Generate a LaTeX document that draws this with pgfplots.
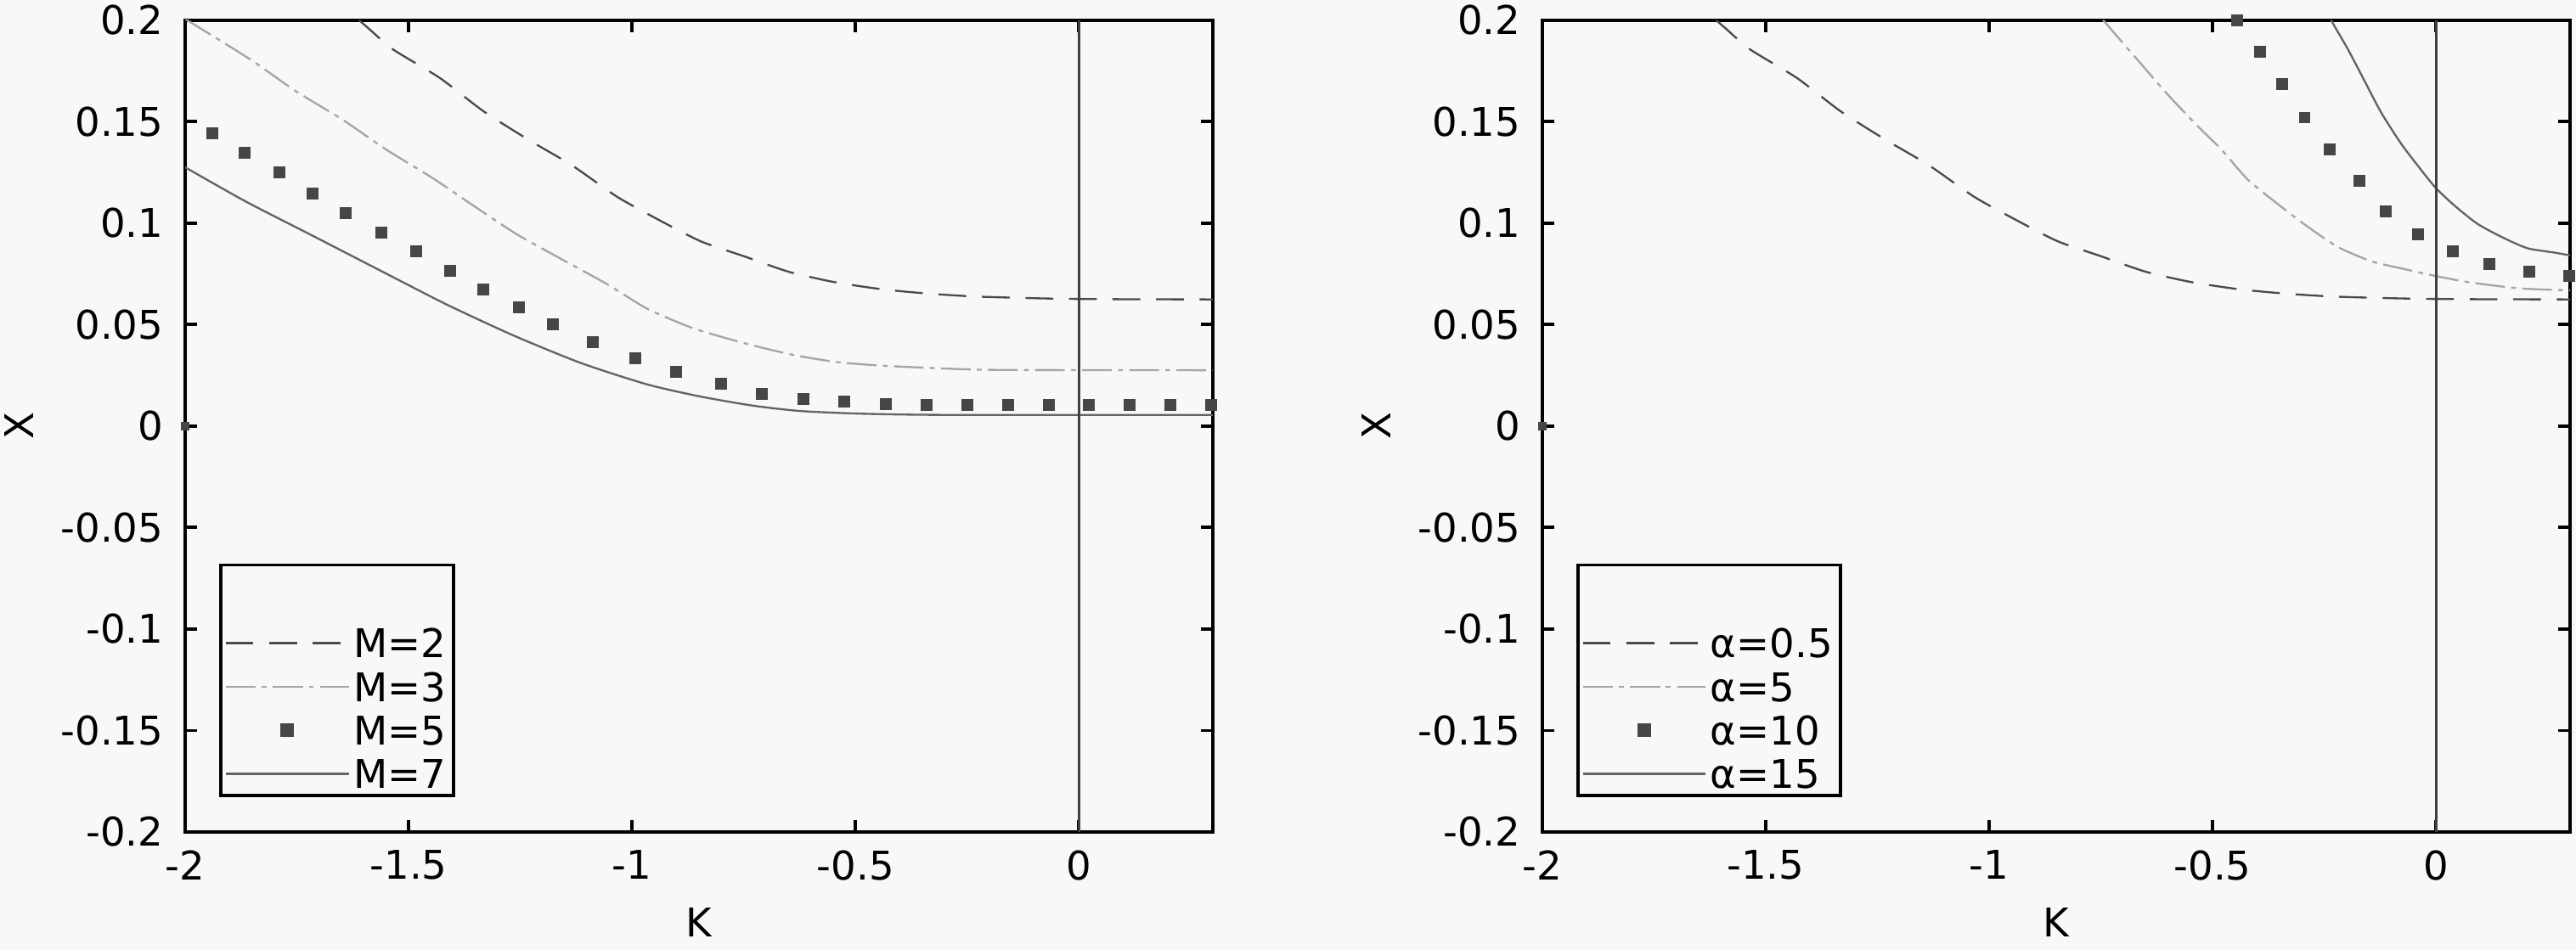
\documentclass[border=0pt]{standalone}
\usepackage{fontspec}
\setmainfont{DejaVu Sans}
\usepackage{pgfplots}
\pgfplotsset{compat=1.18}
\definecolor{bg}{RGB}{248,248,248}
\definecolor{cdash}{RGB}{75,75,75}
\definecolor{cdd}{RGB}{165,165,165}
\definecolor{csq}{RGB}{70,70,70}
\definecolor{csol}{RGB}{100,100,100}

\pgfplotsset{
 myaxis/.style={
  scale only axis, width=259.7pt, height=205.2pt,
  xmin=-2, xmax=0.3, ymin=-0.2, ymax=0.2,
  xtick={-2,-1.5,-1,-0.5,0}, xticklabels={-2,-1.5,-1,-0.5,0},
  ytick={-0.2,-0.15,-0.1,-0.05,0,0.05,0.1,0.15,0.2},
  yticklabels={-0.2,-0.15,-0.1,-0.05,0,0.05,0.1,0.15,0.2},
  tick align=inside, major tick length=3pt,
  xtick pos=both, ytick pos=both,
  xticklabel pos=lower, yticklabel pos=left,
  axis line style={line width=0.8pt, black},
  every tick/.style={line width=0.8pt, black},
  xticklabel style={yshift=-1.2pt},
  yticklabel style={xshift=-2pt},
  xlabel={K}, ylabel={X},
  legend style={at={(0.0331,0.0429)}, anchor=south west, draw=black, line width=0.8pt,
    fill=bg, inner ysep=0pt, inner xsep=1pt, row sep=0pt,
    nodes={text height=8.7pt, text depth=1.3pt, inner ysep=0.5pt, inner xsep=1pt}},
  legend cell align=left,
  legend image code/.code={\draw[mark repeat=2,mark phase=2,##1] plot coordinates {(0pt,0pt) (15.5pt,0pt) (31pt,0pt)};},
  clip=true,
 },
 sdash/.style={cdash, line width=0.5pt, dash pattern=on 7pt off 4pt, smooth, tension=0.4},
 sdd/.style={cdd, line width=0.5pt, dash pattern=on 7.5pt off 1.6pt on 1.2pt off 1.6pt, smooth, tension=0.4},
 ssq/.style={only marks, mark=square*, mark size=1.3pt, mark options={csq, fill=csq, solid}, csq},
 ssol/.style={csol, line width=0.5pt, solid, smooth, tension=0.4},
}

\pgfplotstableread{
K X
-1.611 0.2000
-1.591 0.1962
-1.535 0.1856
-1.430 0.1715
-1.333 0.1552
-1.232 0.1411
-1.134 0.1284
-1.033 0.1129
-0.936 0.1011
-0.846 0.0910
-0.750 0.0837
-0.649 0.0760
-0.549 0.0710
-0.444 0.0675
-0.340 0.0653
-0.239 0.0639
-0.138 0.0632
-0.034 0.0627
0.100 0.0625
0.300 0.0624
}\mtwo

\pgfplotstableread{
K X
-2.000 0.2005
-1.978 0.1976
-1.854 0.1806
-1.753 0.1651
-1.648 0.1510
-1.550 0.1362
-1.445 0.1220
-1.355 0.1086
-1.258 0.0945
-1.160 0.0825
-1.055 0.0698
-0.966 0.0578
-0.861 0.0480
-0.743 0.0405
-0.638 0.0350
-0.541 0.0315
-0.444 0.0298
-0.340 0.0287
-0.228 0.0278
-0.101 0.0276
0.300 0.0275
}\mthree

\pgfplotstableread{
K X
-1.940 0.1444
-1.867 0.1347
-1.790 0.1249
-1.715 0.1147
-1.640 0.1051
-1.561 0.0952
-1.483 0.0860
-1.408 0.0764
-1.333 0.0674
-1.254 0.0585
-1.177 0.0500
-1.088 0.0412
-0.993 0.0334
-0.902 0.0268
-0.801 0.0207
-0.709 0.0158
-0.616 0.0135
-0.525 0.0122
-0.433 0.0110
-0.341 0.0105
-0.250 0.0105
-0.159 0.0105
-0.067 0.0105
0.022 0.0105
0.113 0.0105
0.205 0.0105
0.295 0.0105
}\mfive

\pgfplotstableread{
K X
-2.000 0.1275
-1.865 0.1107
-1.715 0.0938
-1.565 0.0768
-1.415 0.0599
-1.265 0.0446
-1.115 0.0311
-0.966 0.0205
-0.846 0.0145
-0.728 0.0100
-0.623 0.0074
-0.489 0.0061
-0.300 0.0055
0.300 0.0055
}\mseven

\pgfplotstableread{
K X
-0.745 0.2000
-0.719 0.1934
-0.652 0.1764
-0.599 0.1630
-0.532 0.1475
-0.480 0.1362
-0.421 0.1214
-0.346 0.1080
-0.287 0.0982
-0.220 0.0883
-0.145 0.0812
-0.078 0.0777
0.000 0.0739
0.078 0.0707
0.190 0.0678
0.300 0.0669
}\afive

\pgfplotstableread{
K X
-0.4445 0.2000
-0.393 0.1845
-0.345 0.1687
-0.294 0.1520
-0.2375 0.1362
-0.171 0.1207
-0.1117 0.1059
-0.0395 0.0946
0.0372 0.0862
0.119 0.0798
0.2085 0.0760
0.298 0.0739
}\aten

\pgfplotstableread{
K X
-0.235 0.2000
-0.197 0.1856
-0.160 0.1701
-0.123 0.1546
-0.078 0.1391
-0.034 0.1264
0.000 0.1172
0.041 0.1087
0.093 0.0996
0.153 0.0925
0.205 0.0876
0.264 0.0855
0.300 0.0841
}\afifteen

\begin{document}
\begin{tikzpicture}
\useasboundingbox[fill=bg] (0,0) rectangle (650.9pt,240.1pt);
\begin{axis}[myaxis, at={(46.8pt,29.8pt)}, anchor=south west]
\addlegendimage{empty legend}\addlegendentry[text height=12pt]{}
\addplot[sdash] table[x=K,y=X] {\mtwo}; \addlegendentry{M=2}
\addplot[sdd] table[x=K,y=X] {\mthree}; \addlegendentry{M=3}
\addplot[ssq] table[x=K,y=X] {\mfive}; \addlegendentry{M=5}
\addplot[ssol] table[x=K,y=X] {\mseven}; \addlegendentry{M=7}
\addplot[forget plot, black!75, line width=0.6pt] coordinates {(0,-0.2) (0,0.2)};
\addplot[forget plot, only marks, mark=square*, mark size=0.9pt, csq] coordinates {(-2,0)};
\end{axis}
\begin{axis}[myaxis, at={(389.7pt,29.8pt)}, anchor=south west]
\addlegendimage{empty legend}\addlegendentry[text height=12pt]{}
\addplot[sdash] table[x=K,y=X] {\mtwo}; \addlegendentry{α=0.5}
\addplot[sdd] table[x=K,y=X] {\afive}; \addlegendentry{α=5}
\addplot[ssq] table[x=K,y=X] {\aten}; \addlegendentry{α=10}
\addplot[ssol] table[x=K,y=X] {\afifteen}; \addlegendentry{α=15}
\addplot[forget plot, black!75, line width=0.6pt] coordinates {(0,-0.2) (0,0.2)};
\addplot[forget plot, only marks, mark=square*, mark size=0.9pt, csq] coordinates {(-2,0)};
\end{axis}
\end{tikzpicture}
\end{document}
